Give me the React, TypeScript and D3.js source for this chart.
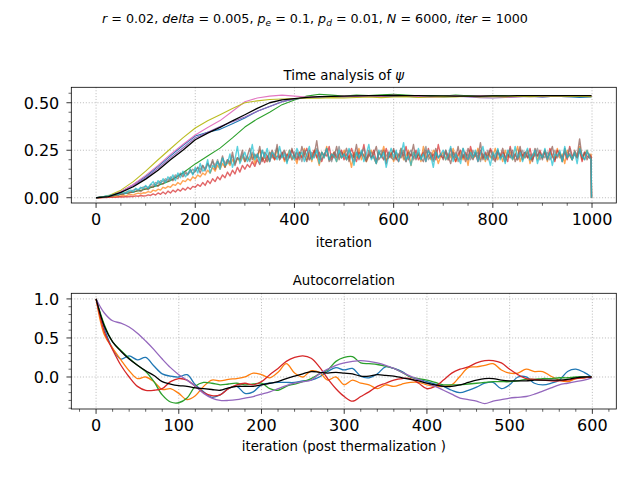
import React from 'react';
import * as d3 from 'd3';

const FONT = '"DejaVu Sans", sans-serif';

// ---------- top panel: time analysis of psi ----------
const SMOOTH_ITERS = [...d3.range(0, 1000, 25), 999];
const NOISE_ITERS = [...d3.range(0, 1000, 5), 998, 999];

const psiBlue = [0, .008, .032, .068, .112, .165, .22, .275, .325, .345, .36, .39, .42, .455, .48, .505, .52, .525, .53, .528, .533, .53, .535, .532, .536, .533, .53, .534, .531, .533, .536, .532, .534, .53, .533, .535, .531, .534, .532, .528, .53];
const psiGreen = [0, .005, .018, .03, .045, .065, .09, .13, .178, .22, .261, .315, .372, .415, .45, .49, .515, .535, .545, .54, .535, .54, .538, .542, .545, .54, .536, .538, .535, .54, .537, .535, .538, .536, .534, .537, .535, .538, .536, .535, .534];
const psiPurple = [0, .007, .03, .063, .105, .155, .21, .262, .315, .345, .375, .40, .425, .455, .48, .505, .52, .527, .53, .532, .53, .535, .533, .53, .534, .536, .532, .53, .533, .535, .531, .527, .525, .528, .53, .533, .531, .534, .532, .535, .533];
const psiPink = [0, .008, .033, .07, .118, .17, .228, .28, .33, .37, .406, .455, .505, .525, .535, .54, .535, .53, .533, .53, .535, .532, .536, .533, .54, .535, .533, .53, .532, .535, .533, .537, .534, .53, .532, .536, .533, .535, .538, .534, .536];
const psiOlive = [0, .01, .04, .085, .14, .2, .258, .315, .367, .405, .437, .47, .50, .51, .517, .52, .522, .525, .524, .527, .525, .528, .53, .527, .53, .532, .528, .53, .532, .53, .534, .53, .533, .531, .535, .532, .534, .536, .533, .535, .532];
const psiMean = [0, .006, .028, .058, .098, .145, .2, .25, .305, .34, .37, .405, .437, .47, .50, .515, .522, .528, .532, .534, .535, .536, .537, .538, .539, .538, .537, .536, .536, .535, .535, .535, .536, .536, .537, .537, .538, .538, .537, .537, .537];

const psiOrange = [
  0, 0, .001, .002, .003, .004, .003, .006, .008, .006, .01, .012, .01, .015, .018, .014, .02, .024, .02, .026,
  .025, .032, .028, .04, .035, .045, .04, .055, .05, .06, .055, .07, .065, .08, .07, .09, .085, .1, .09, .11,
  .1, .12, .11, .13, .12, .145, .13, .16, .14, .17, .15, .18, .16, .19, .17, .2, .18, .21, .19, .22,
  .19, .21, .2, .23, .18, .22, .25, .2, .21, .19, .24, .22, .2, .26, .21, .23, .19, .22, .25, .2,
  .22, .18, .24, .21, .26, .2, .23, .19, .25, .22, .17, .24, .21, .27, .2, .22, .24, .19, .23, .21,
  .25, .2, .22, .16, .24, .21, .26, .2, .23, .19, .22, .25, .21, .18, .24, .22, .27, .2, .21, .24,
  .19, .23, .21, .26, .2, .22, .25, .17, .24, .21, .23, .19, .27, .21, .22, .2, .25, .23, .18, .22,
  .24, .2, .23, .21, .26, .19, .22, .24, .2, .23, .17, .25, .21, .22, .26, .2, .23, .19, .24, .21,
  .22, .26, .2, .23, .19, .25, .21, .24, .2, .22, .27, .19, .23, .21, .25, .18, .22, .24, .2, .23,
  .21, .25, .19, .24, .22, .2, .26, .21, .23, .18, .25, .22, .2, .24, .21, .27, .2, .23, .25, .21,
  .23, 0];
const psiRed = [
  0, 0, 0, .001, .001, .002, .002, .003, .002, .004, .005, .004, .006, .005, .008, .006, .01, .008, .012, .009,
  .01, .015, .012, .02, .014, .025, .018, .03, .02, .035, .025, .04, .03, .045, .035, .05, .04, .055, .045, .06,
  .055, .07, .06, .08, .065, .09, .075, .1, .085, .11, .095, .12, .105, .135, .115, .145, .125, .16, .135, .17,
  .15, .175, .16, .19, .165, .2, .175, .21, .185, .22, .19, .23, .2, .22, .21, .24, .2, .23, .21, .25,
  .22, .2, .24, .21, .23, .26, .2, .22, .25, .21, .24, .19, .23, .22, .27, .2, .24, .21, .23, .25,
  .2, .23, .21, .26, .22, .19, .24, .22, .28, .2, .23, .21, .25, .19, .24, .22, .2, .26, .21, .23,
  .25, .21, .19, .24, .22, .27, .2, .23, .21, .25, .2, .22, .24, .19, .26, .21, .23, .2, .28, .22,
  .21, .24, .2, .26, .22, .19, .23, .25, .21, .24, .2, .27, .22, .23, .19, .25, .21, .24, .2, .26,
  .23, .2, .25, .21, .24, .22, .19, .27, .21, .23, .2, .25, .22, .24, .21, .26, .2, .23, .22, .25,
  .21, .24, .2, .26, .22, .19, .25, .23, .21, .24, .2, .27, .22, .23, .21, .25, .19, .24, .22, .21,
  .22, 0];
const psiBrown = [
  0, .001, .003, .005, .006, .01, .008, .012, .015, .013, .02, .018, .025, .022, .03, .028, .035, .04, .032, .045,
  .05, .042, .06, .055, .07, .06, .08, .072, .09, .085, .1, .09, .11, .1, .125, .11, .13, .12, .15, .125,
  .14, .16, .13, .17, .15, .18, .16, .2, .15, .19, .17, .22, .16, .2, .18, .24, .17, .21, .2, .25,
  .19, .22, .26, .2, .23, .21, .27, .19, .24, .22, .2, .25, .21, .28, .2, .23, .25, .19, .22, .26,
  .21, .24, .2, .27, .22, .19, .25, .21, .23, .3, .2, .24, .22, .26, .19, .23, .21, .27, .2, .24,
  .22, .26, .19, .23, .21, .28, .2, .24, .22, .19, .25, .21, .23, .27, .2, .22, .25, .18, .24, .21,
  .26, .2, .23, .21, .25, .19, .24, .22, .28, .2, .23, .21, .19, .25, .22, .24, .2, .26, .21, .23,
  .2, .25, .22, .18, .24, .21, .27, .2, .23, .19, .26, .22, .2, .24, .21, .29, .2, .23, .22, .25,
  .21, .19, .24, .22, .26, .2, .23, .21, .25, .19, .22, .27, .2, .24, .21, .23, .19, .26, .22, .24,
  .2, .25, .21, .23, .27, .2, .22, .24, .19, .26, .21, .23, .2, .25, .22, .31, .21, .24, .2, .23,
  .21, 0];
const psiGray = [
  0, .002, .005, .004, .008, .012, .01, .016, .02, .018, .026, .022, .03, .035, .03, .04, .045, .038, .05, .056,
  .06, .052, .07, .065, .08, .075, .09, .085, .1, .092, .11, .1, .12, .112, .13, .12, .14, .125, .135, .15,
  .14, .16, .15, .17, .14, .18, .16, .19, .17, .2, .16, .21, .18, .2, .19, .22, .18, .21, .2, .23,
  .2, .22, .19, .24, .21, .23, .2, .25, .22, .19, .24, .21, .23, .26, .2, .22, .24, .21, .23, .2,
  .24, .21, .23, .19, .25, .22, .2, .24, .21, .26, .22, .2, .23, .25, .21, .19, .24, .22, .27, .21,
  .23, .2, .25, .22, .19, .24, .21, .23, .26, .2, .22, .24, .21, .18, .23, .25, .2, .22, .24, .21,
  .2, .24, .22, .26, .21, .19, .23, .25, .2, .22, .24, .21, .23, .27, .2, .22, .19, .24, .21, .23,
  .22, .25, .2, .23, .21, .24, .19, .22, .26, .21, .23, .2, .25, .22, .24, .19, .23, .21, .25, .22,
  .2, .23, .25, .21, .22, .19, .24, .26, .21, .23, .2, .22, .25, .21, .24, .2, .23, .22, .26, .2,
  .23, .21, .24, .2, .22, .25, .21, .23, .19, .24, .22, .26, .2, .23, .21, .25, .22, .2, .24, .22,
  .21, 0];
const psiCyan = [
  0, .002, .004, .006, .01, .008, .015, .012, .02, .016, .025, .03, .022, .035, .04, .03, .05, .042, .055, .048,
  .065, .05, .07, .085, .06, .09, .075, .1, .08, .11, .095, .12, .09, .13, .105, .14, .11, .125, .15, .12,
  .16, .13, .18, .14, .15, .2, .13, .17, .16, .19, .15, .21, .17, .18, .23, .16, .2, .27, .18, .21,
  .24, .19, .22, .28, .2, .23, .18, .25, .21, .26, .19, .24, .22, .2, .27, .21, .23, .18, .25, .22,
  .2, .26, .22, .24, .19, .23, .27, .2, .22, .25, .18, .24, .21, .26, .2, .23, .22, .19, .25, .21,
  .23, .2, .26, .22, .17, .24, .21, .25, .19, .23, .28, .2, .22, .18, .25, .21, .24, .16, .22, .26,
  .21, .25, .19, .23, .29, .2, .22, .17, .24, .21, .26, .2, .23, .19, .25, .22, .16, .24, .21, .23,
  .25, .2, .22, .27, .19, .23, .21, .18, .26, .22, .2, .24, .21, .25, .19, .23, .27, .2, .22, .17,
  .24, .21, .26, .2, .23, .18, .25, .22, .2, .27, .21, .24, .19, .23, .26, .2, .22, .25, .18, .23,
  .21, .26, .2, .24, .17, .23, .22, .25, .19, .27, .21, .23, .2, .24, .18, .26, .22, .2, .25, .21,
  .2, 0];

// ---------- bottom panel: autocorrelation ----------
const LAGS = [...d3.range(0, 600, 10), 599];

const acBlue = [1.0, .62, .36, .23, .27, .22, .25, .14, .04, .01, 0, .03, -.10, -.19, -.26, -.23, -.15, -.12, -.21, -.19, -.10, -.08, -.07, -.07, -.07, -.05, -.04, 0, .07, .12, .09, .11, .01, -.01, .04, .13, .11, .07, 0, -.03, -.06, -.09, -.12, -.17, -.20, -.17, -.13, -.08, -.07, -.15, -.10, 0, 0, -.08, -.10, -.08, -.04, .07, .10, .06, 0];
const acOrange = [1.0, .54, .37, .22, .08, -.02, 0, -.06, -.16, -.15, -.21, -.29, -.24, -.12, -.04, -.05, -.03, -.02, 0, .05, .03, -.01, .06, .17, .05, 0, .08, .06, -.04, 0, -.10, -.04, -.08, -.10, -.15, -.10, -.12, -.09, -.07, -.07, -.10, -.12, -.12, -.10, .01, .12, .13, .15, .17, .09, .05, .05, .10, .07, .07, .01, -.04, -.06, -.02, -.01, 0];
const acGreen = [1.0, .67, .45, .34, .24, .15, .07, -.06, -.23, -.32, -.33, -.27, -.12, -.07, -.08, -.10, -.09, -.08, -.10, -.09, -.08, -.15, -.17, -.12, -.09, -.06, -.02, .04, .09, .20, .25, .26, .18, .17, .16, .14, .11, .06, 0, -.02, -.04, -.07, -.10, -.10, -.10, -.09, -.08, -.07, -.06, -.06, -.06, -.05, -.03, -.03, -.02, -.02, -.01, -.01, 0, 0, 0];
const acRed = [1.0, .58, .35, .15, 0, -.12, -.17, -.17, -.15, -.06, -.02, -.04, -.12, -.20, -.24, -.23, -.15, -.10, -.08, -.10, -.06, .03, .11, .20, .25, .27, .24, .13, -.02, -.15, -.25, -.31, -.25, -.19, -.12, -.08, -.04, -.02, -.02, -.08, -.15, -.12, -.04, .05, .10, .13, .18, .21, .21, .18, .10, .03, -.02, -.03, -.04, -.05, -.05, -.04, -.02, -.01, 0];
const acPurple = [1.0, .82, .72, .69, .64, .56, .46, .35, .23, .12, .03, -.04, -.12, -.21, -.27, -.30, -.30, -.29, -.27, -.25, -.22, -.19, -.15, -.11, -.08, -.06, -.04, .04, .10, .15, .18, .20, .21, .20, .18, .15, .11, .06, .01, -.03, -.08, -.12, -.17, -.22, -.27, -.29, -.31, -.34, -.31, -.29, -.27, -.26, -.25, -.22, -.18, -.14, -.10, -.08, -.06, -.04, -.01];
const acMean = [1.0, .65, .45, .33, .23, .15, .08, .02, -.06, -.09, -.11, -.12, -.14, -.15, -.16, -.17, -.14, -.12, -.12, -.12, -.10, -.08, -.06, -.02, .01, .04, .07, .06, .05, .06, .05, .04, .01, .01, .03, .02, .01, -.01, -.03, -.05, -.08, -.10, -.12, -.12, -.10, -.07, -.04, -.02, -.02, -.04, -.05, -.05, -.05, -.04, -.04, -.04, -.04, -.03, -.01, 0, 0];

const TOP_X_TICKS = [0, 200, 400, 600, 800, 1000];
const TOP_Y_TICKS = [0, 0.25, 0.5];
const BOT_X_TICKS = [0, 100, 200, 300, 400, 500, 600];
const BOT_Y_TICKS = [0, 0.5, 1.0];

type Series = { xs: number[]; ys: number[]; color: string; width: number; opacity?: number };

const NOISY_W = 1.4;
const NOISY_A = 0.7;

const topSeries: Series[] = [
  { xs: SMOOTH_ITERS, ys: psiBlue, color: '#1f77b4', width: 1.1 },
  { xs: NOISE_ITERS, ys: psiOrange, color: '#ff7f0e', width: NOISY_W, opacity: NOISY_A },
  { xs: SMOOTH_ITERS, ys: psiGreen, color: '#2ca02c', width: 1.1 },
  { xs: NOISE_ITERS, ys: psiRed, color: '#d62728', width: NOISY_W, opacity: NOISY_A },
  { xs: SMOOTH_ITERS, ys: psiPurple, color: '#9467bd', width: 1.1 },
  { xs: NOISE_ITERS, ys: psiBrown, color: '#8c564b', width: NOISY_W, opacity: NOISY_A },
  { xs: SMOOTH_ITERS, ys: psiPink, color: '#e377c2', width: 1.1 },
  { xs: NOISE_ITERS, ys: psiGray, color: '#7f7f7f', width: NOISY_W, opacity: NOISY_A },
  { xs: SMOOTH_ITERS, ys: psiOlive, color: '#bcbd22', width: 1.1 },
  { xs: NOISE_ITERS, ys: psiCyan, color: '#17becf', width: NOISY_W, opacity: NOISY_A },
  { xs: SMOOTH_ITERS, ys: psiMean, color: '#000000', width: 1.3 },
];

const botSeries: Series[] = [
  { xs: LAGS, ys: acBlue, color: '#1f77b4', width: 1.3 },
  { xs: LAGS, ys: acOrange, color: '#ff7f0e', width: 1.3 },
  { xs: LAGS, ys: acGreen, color: '#2ca02c', width: 1.3 },
  { xs: LAGS, ys: acRed, color: '#d62728', width: 1.3 },
  { xs: LAGS, ys: acPurple, color: '#9467bd', width: 1.3 },
  { xs: LAGS, ys: acMean, color: '#000000', width: 1.3 },
];

type Scale = d3.ScaleLinear<number, number>;

function minorTicks(scale: Scale, step: number, majors: number[]) {
  const [a, b] = scale.domain();
  const out: number[] = [];
  const start = Math.ceil(a / step);
  const end = Math.floor(b / step);
  for (let k = start; k <= end; k++) {
    const v = +(k * step).toFixed(6);
    if (!majors.some((m) => Math.abs(m - v) < 1e-9)) out.push(v);
  }
  return out;
}

function Panel(props: {
  x: Scale; y: Scale; series: Series[]; xTicks: number[]; yTicks: number[];
  xMinor: number; yMinor: number; xFmt: (v: number) => string; yFmt: (v: number) => string;
  title: React.ReactNode; xlabel: string; xlabelY: number; titleY: number; curve?: d3.CurveFactory;
}) {
  const { x, y, series, xTicks, yTicks, xFmt, yFmt } = props;
  const [x0, x1] = x.range();
  const [yb, yt] = y.range();
  const grid = { stroke: '#b0b0b0', strokeWidth: 0.8, strokeDasharray: '1.1,1.8' };
  const line = d3
    .line<[number, number]>()
    .x((d) => x(d[0]))
    .y((d) => y(d[1]))
    .curve(props.curve || d3.curveLinear);
  const cx = (x0 + x1) / 2;
  const TL = 4.86, TM = 2.78;
  return (
    <g>
      {xTicks.map((t) => (
        <line key={'gx' + t} x1={x(t)} x2={x(t)} y1={yt} y2={yb} {...grid} />
      ))}
      {yTicks.map((t) => (
        <line key={'gy' + t} x1={x0} x2={x1} y1={y(t)} y2={y(t)} {...grid} />
      ))}
      {series.map((s, i) => {
        const pts: [number, number][] = s.xs.slice(0, s.ys.length).map((xv, j) => [xv, s.ys[j]]);
        return (
          <path key={i} d={line(pts) || ''} fill="none" stroke={s.color} strokeWidth={s.width}
            strokeOpacity={s.opacity ?? 1} strokeLinejoin="round" />
        );
      })}
      <rect x={x0} y={yt} width={x1 - x0} height={yb - yt} fill="none" stroke="#000" strokeWidth={0.8} />
      {xTicks.map((t) => (
        <g key={'tx' + t}>
          <line x1={x(t)} x2={x(t)} y1={yb} y2={yb + TL} stroke="#000" strokeWidth={0.8} />
          <text x={x(t)} y={yb + 22.3} textAnchor="middle" fontSize={16}>{xFmt(t)}</text>
        </g>
      ))}
      {minorTicks(x, props.xMinor, xTicks).map((t) => (
        <line key={'mx' + t} x1={x(t)} x2={x(t)} y1={yb} y2={yb + TM} stroke="#000" strokeWidth={0.6} />
      ))}
      {yTicks.map((t) => (
        <g key={'ty' + t}>
          <line x1={x0} x2={x0 - TL} y1={y(t)} y2={y(t)} stroke="#000" strokeWidth={0.8} />
          <text x={x0 - 12} y={y(t) + 5.9} textAnchor="end" fontSize={16}>{yFmt(t)}</text>
        </g>
      ))}
      {minorTicks(y, props.yMinor, yTicks).map((t) => (
        <line key={'my' + t} x1={x0} x2={x0 - TM} y1={y(t)} y2={y(t)} stroke="#000" strokeWidth={0.6} />
      ))}
      <text x={cx} y={props.titleY} textAnchor="middle" fontSize={13.3}>{props.title}</text>
      <text x={cx} y={props.xlabelY} textAnchor="middle" fontSize={13.3}>{props.xlabel}</text>
    </g>
  );
}

export default function App() {
  const topX = d3.scaleLinear().domain([-49.95, 1048.95]).range([71.3, 616.3]);
  const topY = d3.scaleLinear().domain([-0.0277, 0.5813]).range([203, 87.3]);
  const botX = d3.scaleLinear().domain([-29.95, 628.95]).range([71.3, 616.3]);
  const botY = d3.scaleLinear().domain([-0.41, 1.072]).range([409, 293.3]);
  const sub = { fontStyle: 'italic' as const, fontSize: 9 };
  return (
    <svg width={640} height={480} viewBox="0 0 640 480"
      style={{ position: 'absolute', left: 0, top: 0, background: '#fff' }}
      fontFamily={FONT}>
      <rect x={0} y={0} width={640} height={480} fill="#fff" />
      <text x={315} y={23.3} textAnchor="middle" fontSize={12.7}>
        <tspan fontStyle="italic">r</tspan>
        <tspan>{' = 0.02, '}</tspan>
        <tspan fontStyle="italic">delta</tspan>
        <tspan>{' = 0.005, '}</tspan>
        <tspan fontStyle="italic">p</tspan>
        <tspan {...sub} dy={2.8}>e</tspan>
        <tspan dy={-2.8}>{' = 0.1, '}</tspan>
        <tspan fontStyle="italic">p</tspan>
        <tspan {...sub} dy={2.8}>d</tspan>
        <tspan dy={-2.8}>{' = 0.01, '}</tspan>
        <tspan fontStyle="italic">N</tspan>
        <tspan>{' = 6000, '}</tspan>
        <tspan fontStyle="italic">iter</tspan>
        <tspan>{' = 1000'}</tspan>
      </text>
      <Panel x={topX} y={topY} series={topSeries} xTicks={TOP_X_TICKS} yTicks={TOP_Y_TICKS}
        xMinor={50} yMinor={0.05} xFmt={(v) => String(v)} yFmt={(v) => v.toFixed(2)}
        title={<><tspan>{'Time analysis of '}</tspan><tspan fontStyle="italic">ψ</tspan></>}
        titleY={80} xlabel="iteration" xlabelY={247} />
      <Panel x={botX} y={botY} series={botSeries} xTicks={BOT_X_TICKS} yTicks={BOT_Y_TICKS}
        xMinor={20} yMinor={0.1} xFmt={(v) => String(v)} yFmt={(v) => v.toFixed(1)}
        title="Autocorrelation" titleY={284.7} xlabel="iteration (post thermalization )" xlabelY={450.7}
        curve={d3.curveCatmullRom.alpha(0.5)} />
    </svg>
  );
}
